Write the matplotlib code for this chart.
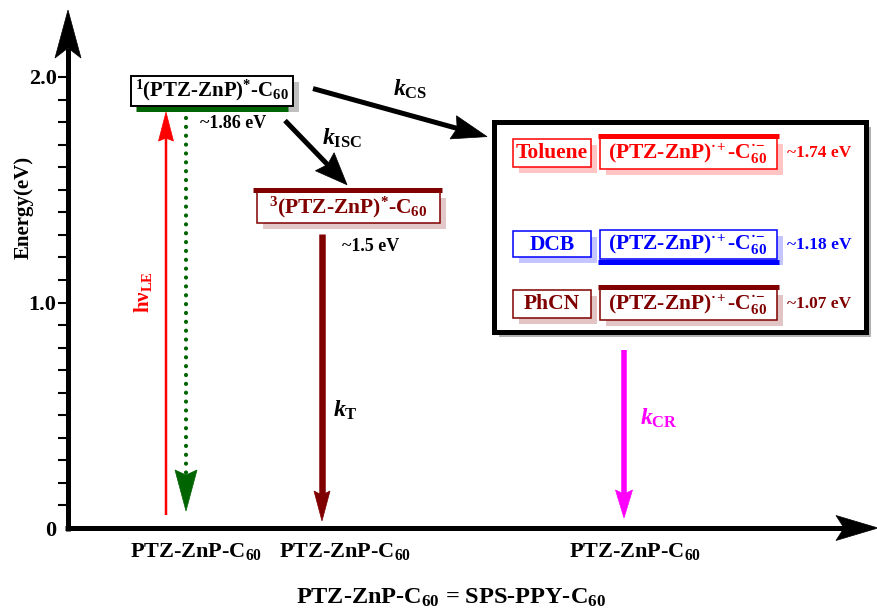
import numpy as np
import matplotlib.pyplot as plt
from matplotlib.patches import Polygon, Rectangle
from matplotlib.ticker import FixedLocator

plt.rcParams["font.family"] = ["Liberation Serif", "DejaVu Serif"]
plt.rcParams["font.weight"] = "bold"
plt.rcParams["mathtext.fontset"] = "custom"
plt.rcParams["mathtext.rm"] = "Liberation Serif:bold"
plt.rcParams["mathtext.it"] = "Liberation Serif:italic:bold"
plt.rcParams["mathtext.bf"] = "Liberation Serif:bold"

# state energies (eV)
singlet_energy = 1.86
triplet_energy = 1.50
solvents = ["Toluene", "DCB", "PhCN"]
cs_energies = [1.74, 1.18, 1.07]
cs_colors = ["#ff0000", "#0000ff", "#800000"]
cs_shadows = ["#ffc4c4", "#c4c4ff", "#e2c4c4"]
cs_label_above = [False, True, False]   # PhCN sits too close to DCB for a label on top

major_ticks = [0.0, 1.0, 2.0]
major_labels = ["0", "1.0", "2.0"]
minor_ticks = np.round(np.arange(0.1, 2.01, 0.1), 1)

ground_label = r"PTZ-ZnP-C$_{60}$"
singlet_label = r"$^{1}$(PTZ-ZnP)$^{*}$-C$_{60}$"
triplet_label = r"$^{3}$(PTZ-ZnP)$^{*}$-C$_{60}$"
cs_label = "(PTZ-ZnP)$^{\u00b7\\!+}$-C$_{60}^{\u00b7\\!-}$"

GREEN = "#006400"
MAROON = "#800000"
MAGENTA = "#ff00ff"

PX_PER_EV = 225.5
P = 1.0 / PX_PER_EV   # one pixel along the energy axis

fig = plt.figure(figsize=(8.78, 6.11), dpi=100)
ax = fig.add_axes([0, 0, 1, 1])
ax.set_xlim(0, 878)
ax.set_ylim(-83 * P, 528 * P)
for s in ax.spines.values():
    s.set_visible(False)
ax.spines["left"].set_position(("data", 68))
ax.set_xticks([])


def arrow(x0, e0, x1, e1, color, width, head_len, head_w, notch=0.0, ls="-", z=4):
    p0 = np.array([x0, e0 * PX_PER_EV])
    p1 = np.array([x1, e1 * PX_PER_EV])
    d = (p1 - p0) / np.hypot(*(p1 - p0))
    n = np.array([-d[1], d[0]])
    base = p1 - head_len * d
    inner = p1 - (head_len - notch) * d
    head = np.array([p1, base + n * head_w / 2, inner, base - n * head_w / 2])
    head[:, 1] *= P
    ax.plot([p0[0], inner[0]], [p0[1] * P, inner[1] * P], color=color,
            lw=width * 0.72, ls=ls, solid_capstyle="butt",
            dash_capstyle="round", zorder=z)
    ax.add_patch(Polygon(head, closed=True, fc=color, ec=color, lw=0.5, zorder=z))


def box(x0, x1, e_lo, e_hi, edge, shadow, lw=1.1, off=6, z=2):
    ax.add_patch(Rectangle((x0 + off, e_lo - off * P), x1 - x0, e_hi - e_lo,
                           fc=shadow, ec="none", zorder=z - 1))
    ax.add_patch(Rectangle((x0, e_lo), x1 - x0, e_hi - e_lo,
                           fc="white", ec=edge, lw=lw, zorder=z))


def level(e, x0, x1, color):
    ax.hlines(e, x0, x1, color=color, lw=5 * 0.72, zorder=3)


# energy axis with ticks
ax.yaxis.set_major_locator(FixedLocator(major_ticks))
ax.yaxis.set_minor_locator(FixedLocator([t for t in minor_ticks if t not in major_ticks]))
ax.set_yticklabels(major_labels, fontsize=16, fontweight="bold")
ax.tick_params(axis="y", which="both", direction="out", length=7.2, width=1.5, pad=1)
ax.yaxis.get_major_ticks()[0].tick1line.set_visible(False)
arrow(68, -2.5 * P, 68, 518 * P, "black", 5, 48, 26, notch=10)
arrow(65.5, 0, 878, 0, "black", 5, 42, 25, notch=8)
ax.text(24, 321 * P, "Energy(eV)", rotation=90, ha="center", va="center",
        fontsize=15, fontweight="bold")

# singlet excited state
level(singlet_energy, 136, 288, GREEN)
box(131, 293, singlet_energy + 2.5 * P, singlet_energy + 33 * P, "black", "#c0c0c0", lw=1.4)
ax.text(212, singlet_energy + 18 * P, singlet_label, ha="center", va="center",
        fontsize=15, zorder=5)
ax.text(200, singlet_energy - 15 * P, "~%.2f eV" % singlet_energy, ha="left",
        va="center", fontsize=13)
arrow(166, 13 * P, 166, singlet_energy - 3.5 * P, "red", 2.5, 29, 15, notch=3)
ax.text(143, 236 * P, "h\u03bd$_{\\rm LE}$", rotation=90, ha="center", va="center",
        fontsize=15, color="red")
arrow(186, singlet_energy - 9 * P, 186, 17 * P, GREEN, 4.2, 41, 22, notch=5,
      ls=(0, (0.01, 2.1)))

# triplet state
level(triplet_energy, 253, 442, MAROON)
box(257, 440, triplet_energy - 33 * P, triplet_energy - 2.5 * P, MAROON, "#e2c8c8")
ax.text(348, triplet_energy - 18 * P, triplet_label, ha="center", va="center",
        fontsize=15.5, color=MAROON, zorder=5)
arrow(285, singlet_energy - 12 * P, 347, triplet_energy + 5 * P, "black", 5, 32, 26, notch=4)
ax.text(322, singlet_energy - 30 * P, r"$k_{\rm ISC}$", ha="left", va="center", fontsize=17)
arrow(322, triplet_energy - 44 * P, 322, 7 * P, MAROON, 6.5, 30, 16, notch=4)
ax.text(342, triplet_energy - 57 * P, "~%.1f eV" % triplet_energy, ha="left",
        va="center", fontsize=13)
ax.text(333, 118 * P, r"$k_{\rm T}$", ha="left", va="center", fontsize=17)

# charge-separated states in three solvents
frame_top = max(cs_energies) + 14 * P
frame_bot = min(cs_energies) - 45 * P
ax.add_patch(Rectangle((499, frame_bot - 5 * P), 372, frame_top - frame_bot,
                       fc="#b0b0b0", ec="none", zorder=0.5))
ax.add_patch(Rectangle((494, frame_bot), 372, frame_top - frame_bot,
                       fc="white", ec="black", lw=5 * 0.72, zorder=0.8))
for name, e, col, sh, above in zip(solvents, cs_energies, cs_colors, cs_shadows,
                                   cs_label_above):
    if above:
        lo, hi = e + 2.5 * P, e + 32 * P
    else:
        lo, hi = e - 33 * P, e - 2.5 * P
    mid = (lo + hi) / 2
    level(e, 598, 779, col)
    box(600, 777, lo, hi, col, sh)
    ax.text(688, mid, cs_label, ha="center", va="center", fontsize=15.5,
            color=col, zorder=5)
    box(513, 591, lo + 2 * P, hi - 1 * P, col, sh)
    ax.text(552, mid, name, ha="center", va="center", fontsize=15.5, color=col, zorder=5)
    ax.text(787, mid, "~%.2f eV" % e, ha="left", va="center", fontsize=12.5, color=col)

arrow(313, singlet_energy + 20 * P, 487, max(cs_energies) - 1 * P, "black", 5, 35, 24, notch=4)
ax.text(393, singlet_energy + 19 * P, r"$k_{\rm CS}$", ha="left", va="center", fontsize=17)
arrow(624, frame_bot - 18 * P, 624, 10 * P, MAGENTA, 5.5, 28, 17, notch=4)
ax.text(640, 110 * P, r"$k_{\rm CR}$", ha="left", va="center", fontsize=17, color=MAGENTA)

# ground states
for x in [196, 345, 635]:
    ax.text(x, -24 * P, ground_label, ha="center", va="center", fontsize=16)
ax.text(451, -70 * P, r"PTZ-ZnP-C$_{60}$ = SPS-PPY-C$_{60}$", ha="center",
        va="center", fontsize=17.5)

fig.savefig("out.png", dpi=100)
